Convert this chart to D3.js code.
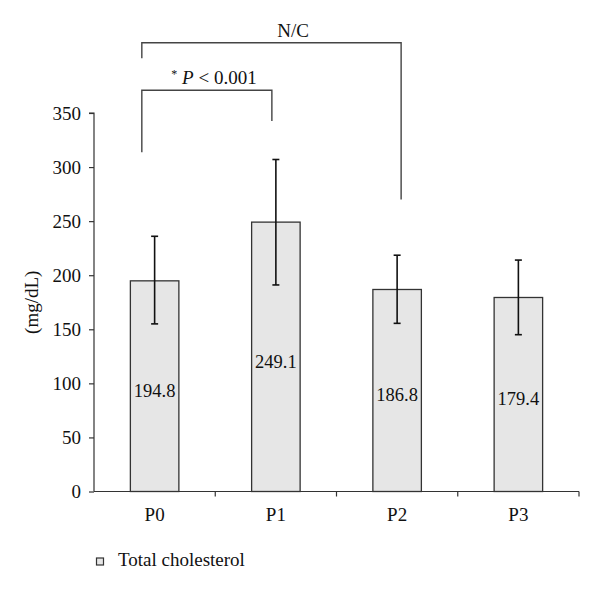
<!DOCTYPE html>
<html>
<head>
<meta charset="utf-8">
<script src="https://cdn.jsdelivr.net/npm/d3@7"></script>
<style>
    body { margin: 0; background: #fff; }
    text { font-family: 'Liberation Serif', 'DejaVu Serif', serif; fill: #111; }
</style>
</head>
<body>
<div id="chart"></div>
<script>
// data
const periods = ['P0', 'P1', 'P2', 'P3']
const means = [194.8, 249.1, 186.8, 179.4]
const errUpper = [236, 307, 218.5, 214]
const errLower = [155, 191, 155.5, 145]
const yTicks = [0, 50, 100, 150, 200, 250, 300, 350]
const seriesName = 'Total cholesterol'
const yLabel = '(mg/dL)'

// comparison brackets (levels in mg/dL)
const brackets = [
    { from: 'P0', to: 'P1', top: 371, leftEnd: 313.7, rightEnd: 342.6, label: 'p' },
    { from: 'P0', to: 'P2', top: 415, leftEnd: 400.6, rightEnd: 270, label: 'N/C' }
]

const width = 600
const height = 594

const svg = d3.select('#chart')
    .append('svg')
    .attr('width', width)
    .attr('height', height)

const xScale = d3.scaleBand().domain(periods).range([94, 579]).padding(0)
const yScale = d3.scaleLinear().domain([0, 350]).range([491.5, 113])

const barW = xScale.bandwidth() * 0.4
const cx = p => xScale(p) + xScale.bandwidth() / 2

//y axis
const yaxis = d3.axisLeft(yScale).tickValues(yTicks).tickSize(5).tickPadding(8)
const gy = svg.append('g')
    .attr('transform', 'translate(94,0)')
    .call(yaxis)
gy.select('.domain').attr('d', 'M-5,' + yScale(350) + 'H0V' + yScale(0))
gy.selectAll('line, path').attr('stroke', '#333').attr('stroke-width', 1.2)
gy.selectAll('text')
    .style('font-size', '19px')
    .style('font-family', "'Liberation Serif', serif")
    .attr('fill', '#111')

//x axis
const xaxis = d3.axisBottom(xScale).tickSize(0).tickPadding(16)
const gx = svg.append('g')
    .attr('transform', 'translate(0,' + yScale(0) + ')')
    .call(xaxis)
gx.select('.domain').attr('d', 'M94,0H579').attr('stroke', '#333').attr('stroke-width', 1.2)
gx.selectAll('text')
    .style('font-size', '19px')
    .style('font-family', "'Liberation Serif', serif")
    .attr('fill', '#111')
//category boundary ticks
svg.append('g')
    .selectAll('line')
    .data(periods)
    .join('line')
    .attr('x1', d => xScale(d) + xScale.bandwidth())
    .attr('x2', d => xScale(d) + xScale.bandwidth())
    .attr('y1', yScale(0))
    .attr('y2', yScale(0) + 5)
    .attr('stroke', '#333')
    .attr('stroke-width', 1.2)

//bars
svg.append('g')
    .selectAll('rect')
    .data(means)
    .join('rect')
    .attr('x', (d, i) => cx(periods[i]) - barW / 2)
    .attr('y', d => yScale(d))
    .attr('width', barW)
    .attr('height', d => yScale(0) - yScale(d))
    .attr('fill', '#e6e6e6')
    .attr('stroke', '#333')
    .attr('stroke-width', 1.3)

//error bars
const eg = svg.append('g').attr('stroke', '#111').attr('stroke-width', 1.6)
periods.forEach((p, i) => {
    eg.append('line')
        .attr('x1', cx(p)).attr('x2', cx(p))
        .attr('y1', yScale(errUpper[i])).attr('y2', yScale(errLower[i]))
    eg.append('line')
        .attr('x1', cx(p) - 3.5).attr('x2', cx(p) + 3.5)
        .attr('y1', yScale(errUpper[i])).attr('y2', yScale(errUpper[i]))
    eg.append('line')
        .attr('x1', cx(p) - 3.5).attr('x2', cx(p) + 3.5)
        .attr('y1', yScale(errLower[i])).attr('y2', yScale(errLower[i]))
})

//value labels
svg.append('g')
    .selectAll('text')
    .data(means)
    .join('text')
    .attr('x', (d, i) => cx(periods[i]))
    .attr('y', d => (yScale(d) + yScale(0)) / 2 + 11)
    .attr('text-anchor', 'middle')
    .style('font-size', '18.5px')
    .text(d => d.toFixed(1))

//brackets
brackets.forEach(b => {
    const x1 = cx(b.from) - 12.8
    const x2 = b.label === 'N/C' ? cx(b.to) + 4 : cx(b.to) - 4
    svg.append('path')
        .attr('d', 'M' + x1 + ',' + yScale(b.leftEnd) + 'V' + yScale(b.top) +
            'H' + x2 + 'V' + yScale(b.rightEnd))
        .attr('fill', 'none')
        .attr('stroke', '#444')
        .attr('stroke-width', 1.4)
    const t = svg.append('text')
        .attr('x', b.label === 'N/C' ? 293 : 214)
        .attr('y', yScale(b.top) - 6)
        .attr('text-anchor', 'middle')
        .style('font-size', '19px')
    if (b.label === 'N/C') {
        t.text('N/C')
    } else {
        t.append('tspan').attr('dy', -6).style('font-size', '12px').text('*')
        t.append('tspan').attr('dy', 6).style('font-style', 'italic').text(' P')
        t.append('tspan').text(' < 0.001')
    }
})

//y label
svg.append('text')
    .attr('transform', 'translate(38,' + ((yScale(0) + yScale(350)) / 2) + ') rotate(-90)')
    .attr('text-anchor', 'middle')
    .style('font-size', '19px')
    .text(yLabel)

//legend
svg.append('rect')
    .attr('x', 96.5).attr('y', 558)
    .attr('width', 7).attr('height', 7)
    .attr('fill', '#e6e6e6')
    .attr('stroke', '#333')
    .attr('stroke-width', 1.2)
svg.append('text')
    .attr('x', 118)
    .attr('y', 566)
    .style('font-size', '19px')
    .text(seriesName)
</script>
</body>
</html>
